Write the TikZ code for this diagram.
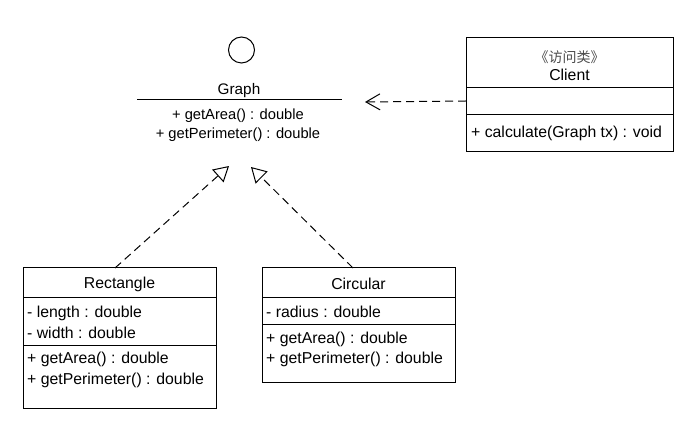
\documentclass[tikz,border=0pt]{standalone}
\usepackage{fontspec}
\setmainfont{Liberation Sans}
\newfontfamily\cjk{Noto Sans CJK SC}
\usetikzlibrary{arrows.meta}
\begin{document}
\begin{tikzpicture}[x=1pt,y=-1pt,
  every node/.style={font=\fontsize{15.8}{18}\selectfont},
  gfont/.style={font=\fontsize{14.7}{17}\selectfont},
  box/.style={draw, line width=1pt, anchor=north west, outer sep=0pt, inner sep=0pt},
  member/.style={anchor=west, inner sep=0pt},
  cname/.style={anchor=center, inner sep=0pt},
  sep/.style={line width=1pt},
  dep/.style={line width=1pt, dash pattern=on 8pt off 5pt, -{Straight Barb[length=14pt,width=16pt,line width=1pt]}},
  real/.style={line width=1pt, dash pattern=on 8pt off 5pt, -{Triangle[open,length=15pt,width=17pt,line width=1pt]}}
]
\useasboundingbox (0,0) rectangle (695,435);
\fill[white] (0,0) rectangle (695,435);

% Graph interface
\node[circle, draw, line width=1pt, minimum size=26pt, inner sep=0pt] (gicon) at (241.5,50) {};
\node[cname, font=\fontsize{15.3}{17}\selectfont] (graph) at (239,91) {Graph};
\coordinate (gl) at (137,100);
\coordinate (gr) at (342,100);
\draw[sep] (gl) -- (gr);
\node[cname, gfont] (g1) at (238,116) {+ getArea() : double};
\node[cname, gfont] (g2) at (238,135) {+ getPerimeter() : double};
\coordinate (tipL) at (229,166);
\coordinate (tipR) at (251,167);
\coordinate (tipC) at (365,102);

% Client
\node[box, minimum width=207pt, minimum height=114pt] (client) at (466,38) {};
\draw[sep] (client.west |- 0,88) -- (client.east |- 0,88);
\draw[sep] (client.west |- 0,115) -- (client.east |- 0,115);
\node[cname, font=\cjk\fontsize{14}{16}\selectfont, text=black!70] (stereo) at (569.5,57) {《访问类》};
\node[cname] (cl) at (569.5,75) {Client};
\node[member] (c1) at (471,133) {+ calculate(Graph tx) : void};

% Rectangle
\node[box, minimum width=193pt, minimum height=140pt] (rect) at (23,268) {};
\draw[sep] (rect.west |- 0,297) -- (rect.east |- 0,297);
\draw[sep] (rect.west |- 0,345) -- (rect.east |- 0,345);
\node[cname] (rn) at (119.5,284) {Rectangle};
\node[member] (r1) at (27,313) {- length : double};
\node[member] (r2) at (27,333) {- width : double};
\node[member] (r3) at (27,359) {+ getArea() : double};
\node[member] (r4) at (27,380) {+ getPerimeter() : double};

% Circular
\node[box, minimum width=193pt, minimum height=114pt] (circ) at (262,268) {};
\draw[sep] (circ.west |- 0,297) -- (circ.east |- 0,297);
\draw[sep] (circ.west |- 0,324) -- (circ.east |- 0,324);
\node[cname] (cn) at (358.5,284) {Circular};
\node[member] (k1) at (266,312) {- radius : double};
\node[member] (k2) at (266,339) {+ getArea() : double};
\node[member] (k3) at (266,359) {+ getPerimeter() : double};

% connectors
\draw[real] (rect.north west -| 115,0) -- (tipL);
\draw[real] (circ.north west -| 353,0) -- (tipR);
\draw[dep] (client.west |- 0,101) -- (tipC);
\end{tikzpicture}
\end{document}
